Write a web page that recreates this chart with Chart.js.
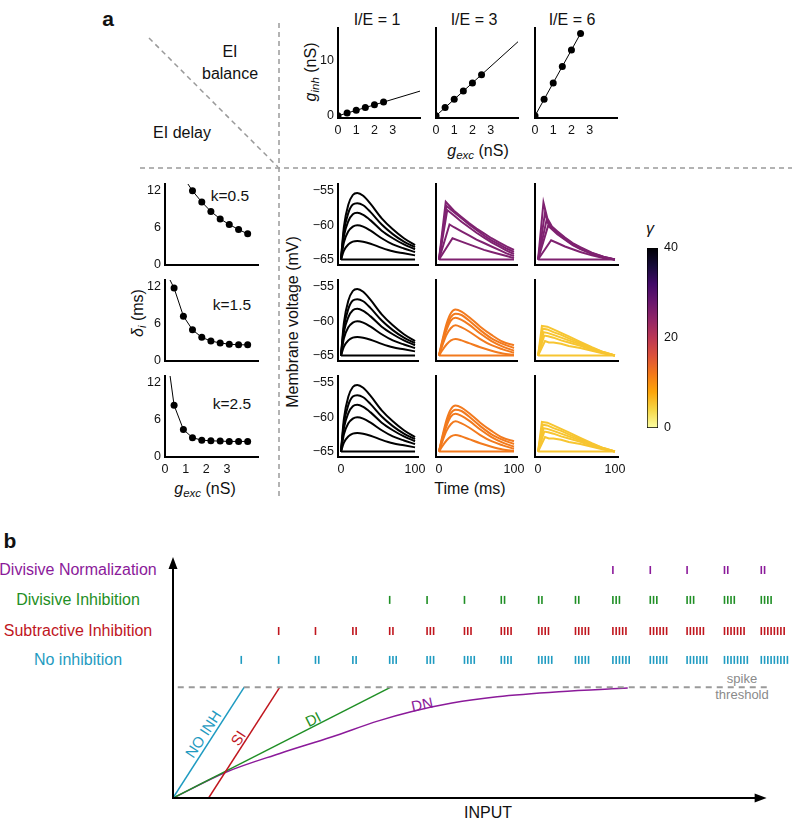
<!DOCTYPE html>
<html>
<head>
<meta charset="utf-8">
<script src="https://cdn.jsdelivr.net/npm/chart.js@4.4.1/dist/chart.umd.min.js"></script>
<style>
body { margin: 0; background: #fff; }
#fig { position: relative; width: 797px; height: 819px; overflow: hidden; background: #fff;
       font-family: 'Liberation Sans', Arial, sans-serif; color: #111; }
#fig canvas { position: absolute; }
.t { position: absolute; transform: translate(-50%, -50%); white-space: nowrap; font-size: 16px; line-height: 1; }
.v { transform: translate(-50%, -50%) rotate(-90deg); }
.t sub { font-size: 72%; vertical-align: -0.3em; line-height: 0; }
.lab { font-weight: bold; font-size: 21px; }
</style>
</head>
<body>
<div id="fig">
  <svg width="797" height="819" style="position:absolute;left:0;top:0">
    <g stroke="#9a9a9a" stroke-width="1.5" stroke-dasharray="5 4" fill="none">
      <line x1="149" y1="38" x2="278" y2="167"/>
      <line x1="279" y1="23" x2="279" y2="500"/>
      <line x1="140" y1="168" x2="792" y2="168"/>
    </g>
  </svg>

  <div class="t lab" style="left:108px;top:18px">a</div>
  <div class="t lab" style="left:10px;top:540px">b</div>

  <div class="t" style="left:230px;top:52px">EI</div>
  <div class="t" style="left:230px;top:74px">balance</div>
  <div class="t" style="left:182px;top:133px">EI delay</div>

  <div class="t" style="left:377px;top:20px">I/E = 1</div>
  <div class="t" style="left:474px;top:20px">I/E = 3</div>
  <div class="t" style="left:572px;top:20px">I/E = 6</div>
  <div class="t v" style="left:311px;top:72px"><i>g</i><sub><i>inh</i></sub> (nS)</div>
  <div class="t" style="left:478px;top:151px"><i>g</i><sub><i>exc</i></sub> (nS)</div>

  <div class="t" style="left:230px;top:196px;font-size:15.5px">k=0.5</div>
  <div class="t" style="left:232px;top:305px;font-size:15.5px">k=1.5</div>
  <div class="t" style="left:232px;top:404px;font-size:15.5px">k=2.5</div>
  <div class="t v" style="left:138px;top:313px"><i>δ</i><sub><i>i</i></sub> (ms)</div>
  <div class="t" style="left:205px;top:489px"><i>g</i><sub><i>exc</i></sub> (nS)</div>

  <div class="t v" style="left:293px;top:322px">Membrane voltage (mV)</div>
  <div class="t" style="left:470px;top:489px">Time (ms)</div>
  <div class="t" style="left:650px;top:229px"><i>γ</i></div>

  <div class="t" style="left:78px;top:570px;color:#8b1a9a">Divisive Normalization</div>
  <div class="t" style="left:78px;top:600px;color:#1f8f25">Divisive Inhibition</div>
  <div class="t" style="left:78px;top:631px;color:#c0161e">Subtractive Inhibition</div>
  <div class="t" style="left:78px;top:660px;color:#1f9bc1">No inhibition</div>
  <div class="t" style="left:742px;top:678px;font-size:13px;color:#8a8a8a">spike</div>
  <div class="t" style="left:742px;top:694px;font-size:13px;color:#8a8a8a">threshold</div>
  <div class="t" style="left:488px;top:813px">INPUT</div>
  <div class="t" style="left:203px;top:734px;font-size:15px;color:#1f9bc1;transform:translate(-50%,-50%) rotate(-57deg)">NO INH</div>
  <div class="t" style="left:238px;top:738px;font-size:15px;color:#c0161e;transform:translate(-50%,-50%) rotate(-57deg)">SI</div>
  <div class="t" style="left:313px;top:719px;font-size:15px;color:#1f8f25;transform:translate(-50%,-50%) rotate(-27deg)">DI</div>
  <div class="t" style="left:422px;top:704px;font-size:15px;color:#8b1a9a;transform:translate(-50%,-50%) rotate(-12deg)">DN</div>
</div>

<script>
// ---- panel a, top row (EI balance): g_inh against g_exc for each I/E ratio
const gexcPts = [0, 0.5, 1, 1.5, 2, 2.5];
const ginhIE1 = [0, 0.5, 1, 1.5, 2, 2.5];
const ginhIE3 = [0, 1.5, 3, 4.5, 6, 7.5];
const ginhIE6 = [0, 3, 6, 9, 12, 15];
const fitIE1 = [[0, 0], [4.5, 4.5]];
const fitIE3 = [[0, 0], [4.5, 13.5]];
const fitIE6 = [[0, 0], [2.5, 15]];

// ---- panel a, left column (EI delay): delta_i against g_exc
const gexcDelay = [0, 0.44, 0.89, 1.33, 1.78, 2.22, 2.67, 3.11, 3.56, 4.0];
const delayK05 = [20, 17, 14.1, 11.9, 10.1, 8.6, 7.4, 6.5, 5.7, 5.0];
const delayK15 = [14.6, 11.7, 7.2, 5.0, 3.8, 3.2, 2.9, 2.7, 2.6, 2.6];
const delayK25 = [19, 8.3, 4.4, 3.1, 2.7, 2.6, 2.55, 2.5, 2.5, 2.5];

// ---- panel a, membrane voltage traces (mV)
const tMs = [0, 4, 10, 16, 22, 30, 40, 55, 70, 85, 100];
const vBlack = [
  [-65, -60.2, -57.0, -55.6, -55.3, -55.7, -56.9, -59.0, -60.6, -61.9, -62.9],
  [-65, -60.9, -58.2, -57.0, -56.8, -57.1, -58.1, -59.9, -61.3, -62.4, -63.2],
  [-65, -61.6, -59.4, -58.4, -58.2, -58.5, -59.3, -60.8, -61.9, -62.8, -63.5],
  [-65, -62.5, -60.9, -60.2, -60.0, -60.2, -60.8, -61.9, -62.8, -63.4, -63.9],
  [-65, -63.7, -62.8, -62.4, -62.3, -62.4, -62.7, -63.3, -63.8, -64.1, -64.4],
  [-65, -65, -65, -65, -65, -65, -65, -65, -65, -65, -65]
];
const vOrange = [
  [-65, -63.0, -60.4, -58.8, -58.3, -58.6, -59.4, -60.8, -62.0, -63.0, -63.5],
  [-65, -63.2, -60.9, -59.4, -58.9, -59.1, -59.9, -61.3, -62.5, -63.3, -63.9],
  [-65, -63.4, -61.3, -59.9, -59.5, -59.8, -60.5, -61.8, -62.9, -63.7, -64.3],
  [-65, -63.7, -62.0, -61.0, -60.6, -60.9, -61.5, -62.6, -63.5, -64.1, -64.6],
  [-65, -64.3, -63.4, -62.8, -62.6, -62.8, -63.2, -63.8, -64.3, -64.7, -64.9],
  [-65, -65, -65, -65, -65, -65, -65, -65, -65, -65, -65]
];
// [time, voltage] pairs for the sharply peaked traces
const vPurpleMid = [
  [[0, -65], [9, -56.6], [20, -57.9], [30, -58.8], [40, -59.7], [50, -60.5], [60, -61.2], [70, -61.9], [80, -62.5], [90, -63.1], [100, -63.6]],
  [[0, -65], [10, -57.2], [20, -58.1], [30, -59.0], [40, -59.9], [50, -60.7], [60, -61.5], [70, -62.2], [80, -62.8], [90, -63.4], [100, -63.9]],
  [[0, -65], [11, -57.8], [20, -58.6], [30, -59.5], [40, -60.3], [50, -61.1], [60, -61.8], [70, -62.5], [80, -63.1], [90, -63.7], [100, -64.2]],
  [[0, -65], [14, -59.9], [20, -60.3], [30, -60.9], [40, -61.5], [50, -62.1], [60, -62.6], [70, -63.1], [80, -63.6], [90, -64.1], [100, -64.5]],
  [[0, -65], [18, -61.9], [30, -62.4], [40, -62.8], [50, -63.2], [60, -63.6], [70, -63.9], [80, -64.2], [90, -64.5], [100, -64.8]],
  [[0, -65], [100, -65]]
];
const vPurpleHigh = [
  [[0, -65], [7, -56.7], [12, -59.0], [18, -60.2], [25, -60.9], [35, -61.8], [45, -62.6], [55, -63.2], [70, -64.0], [85, -64.6], [100, -65]],
  [[0, -65], [9, -58.2], [13, -59.6], [18, -60.4], [25, -61.0], [35, -61.9], [45, -62.7], [55, -63.3], [70, -64.1], [85, -64.6], [100, -65]],
  [[0, -65], [11, -59.3], [15, -60.1], [20, -60.6], [25, -61.1], [35, -62.0], [45, -62.8], [55, -63.4], [70, -64.1], [85, -64.7], [100, -65]],
  [[0, -65], [13, -60.1], [18, -60.6], [25, -61.3], [35, -62.1], [45, -62.9], [55, -63.5], [70, -64.2], [85, -64.7], [100, -65]],
  [[0, -65], [17, -62.2], [25, -62.6], [35, -63.1], [45, -63.5], [55, -63.9], [70, -64.4], [85, -64.8], [100, -65]],
  [[0, -65], [100, -65]]
];
const vYellow = [
  [[0, -65], [5, -60.7], [12, -60.8], [20, -61.2], [30, -61.7], [40, -62.2], [55, -63.0], [70, -63.8], [85, -64.5], [100, -65]],
  [[0, -65], [6, -61.1], [12, -61.2], [20, -61.6], [30, -62.0], [40, -62.5], [55, -63.2], [70, -63.9], [85, -64.5], [100, -65]],
  [[0, -65], [7, -61.6], [12, -61.7], [20, -62.0], [30, -62.4], [40, -62.8], [55, -63.4], [70, -64.0], [85, -64.6], [100, -65]],
  [[0, -65], [8, -62.1], [13, -62.2], [20, -62.4], [30, -62.8], [40, -63.1], [55, -63.6], [70, -64.2], [85, -64.6], [100, -65]],
  [[0, -65], [9, -62.9], [14, -63.1], [20, -63.1], [30, -63.3], [40, -63.6], [55, -63.9], [70, -64.3], [85, -64.7], [100, -65]],
  [[0, -65], [100, -65]]
];
const gammaTicks = [0, 20, 40];

// ---- panel b: input-output curves and spike counts per input level
const inputLevels = [11.5, 17.8, 24.0, 30.3, 36.5, 42.8, 49.1, 55.3, 61.6, 67.8, 74.1, 80.4, 86.6, 92.9, 99.1];
const spikesNoInh = [1, 1, 2, 2, 3, 3, 4, 4, 5, 5, 6, 6, 7, 8, 9];
const spikesSI    = [0, 1, 1, 2, 2, 3, 3, 4, 4, 5, 5, 6, 6, 7, 8];
const spikesDI    = [0, 0, 0, 0, 1, 1, 1, 2, 2, 2, 3, 3, 3, 4, 4];
const spikesDN    = [0, 0, 0, 0, 0, 0, 0, 0, 0, 0, 1, 1, 1, 2, 2];
const noInhX = [0, 12.0], noInhY = [0, 46];
const siX = [6.0, 18.0], siY = [0, 46];
const diX = [0, 36.7], diY = [0, 46];
const dnX = [0, 9, 18, 26.7, 34.6, 40.1, 47, 54.6, 65, 76.6];
const dnY = [0, 10.8, 18.5, 25.3, 32.0, 35.8, 39.4, 42.0, 44.1, 45.6];
const threshold = 46;

// -------------------------------------------------------------------------
const fig = document.getElementById('fig');
const tickFont = {family: "'Liberation Sans', Arial, sans-serif", size: 12.5};
const minus = v => String(v).replace('-', '\u2212');
const xy = (xs, ys) => xs.map((x, i) => ({x, y: ys[i]}));
const noUi = {legend: {display: false}, tooltip: {enabled: false}};

function canvasAt(l, t, w, h) {
  const cv = document.createElement('canvas');
  cv.width = w; cv.height = h;
  cv.style.left = l + 'px'; cv.style.top = t + 'px';
  cv.style.width = w + 'px'; cv.style.height = h + 'px';
  fig.appendChild(cv);
  return cv;
}

function linAxis(min, max, ticks, showLabels, size, isX) {
  return {
    type: 'linear', min, max,
    grid: {display: false, drawTicks: false},
    border: {display: true, color: '#000', width: 2},
    ticks: {display: showLabels, font: tickFont, color: '#111', padding: isX ? 5 : 4,
            maxRotation: 0, autoSkip: false, callback: minus},
    afterBuildTicks: s => { s.ticks = ticks.map(v => ({value: v})); },
    afterFit: s => {
      if (isX) s.height = size; else s.width = size;
      s.paddingLeft = s.paddingRight = s.paddingTop = s.paddingBottom = 0;
    }
  };
}

// small panel whose plot area is exactly [l, t, r, b] in page pixels
function panel(area, xAxis, yAxis, datasets) {
  const [l, t, r, b] = area;
  const padL = 36, padB = 24, padT = 8, padR = 14;
  const cv = canvasAt(l - padL, t - padT, r - l + padL + padR, b - t + padT + padB);
  return new Chart(cv, {
    type: 'scatter',
    data: {datasets},
    options: {
      responsive: false, animation: false, events: [],
      layout: {padding: {left: 0, top: padT, right: padR, bottom: 0}},
      plugins: noUi,
      scales: {x: linAxis(...xAxis, padB, true), y: linAxis(...yAxis, padL, false)}
    }
  });
}

const colL = [338, 436, 535];
const rows = [[184, 265], [280, 361], [376, 457]];

// top row
const ginhSets = [ginhIE1, ginhIE3, ginhIE6];
const fitSets = [fitIE1, fitIE3, fitIE6];
ginhSets.forEach((g, i) => {
  panel([colL[i], 28, colL[i] + 82, 118],
    [0, 4.5, [0, 1, 2, 3], true], [-0.4, 16, [0, 10], i === 0],
    [
      {data: fitSets[i].map(([x, y]) => ({x, y})), showLine: true, borderColor: '#000', borderWidth: 1, pointRadius: 0},
      {data: xy(gexcPts, g), pointRadius: 3.5, pointBackgroundColor: '#000', pointBorderWidth: 0}
    ]);
});

// left column
[delayK05, delayK15, delayK25].forEach((d, i) => {
  panel([165, rows[i][0], 258, rows[i][1]],
    [0, 4.5, [0, 1, 2, 3], i === 2], [0, 13, [0, 6, 12], true],
    [{data: xy(gexcDelay, d), showLine: true, borderColor: '#000', borderWidth: 1, clip: 0,
      pointRadius: gexcDelay.map((_, j) => j === 0 ? 0 : 3.5),
      pointBackgroundColor: '#000', pointBorderWidth: 0}]);
});

// membrane voltage grid
const memSets = [
  [vBlack, vPurpleMid, vPurpleHigh],
  [vBlack, vOrange, vYellow],
  [vBlack, vOrange, vYellow]
];
const memColors = [
  ['#000000', '#7f2270', '#7f2270'],
  ['#000000', '#f27a1e', '#f7c531'],
  ['#000000', '#f27a1e', '#f7c531']
];
const memR = [418, 517, 618];
memSets.forEach((row, r) => {
  row.forEach((curves, c) => {
    const ds = curves.map(cv => {
      const paired = Array.isArray(cv[0]);
      return {
        data: paired ? cv.map(([x, y]) => ({x, y})) : xy(tMs, cv),
        showLine: true, borderColor: memColors[r][c], borderWidth: 2, pointRadius: 0,
        cubicInterpolationMode: paired ? 'default' : 'monotone', tension: paired ? 0 : 0.4
      };
    });
    panel([colL[c], rows[r][0], memR[c], rows[r][1]],
      [-4, 104, [0, 100], r === 2], [-65.8, -54, [-65, -60, -55], c === 0], ds);
  });
});

// colour bar for gamma (inferno, 0 at the bottom)
const cbStops = ['#fcffa4', '#f6d746', '#fca50a', '#f37819', '#dd513a', '#bc3754',
                 '#932667', '#6a176e', '#420a68', '#160b39', '#000004'];
new Chart(canvasAt(647, 240, 11 + 30, 180 + 16), {
  type: 'bar',
  data: {labels: [''], datasets: [{
    data: [gammaTicks[gammaTicks.length - 1]],
    backgroundColor: ctx => {
      const a = ctx.chart.chartArea;
      if (!a) return '#000';
      const g = ctx.chart.ctx.createLinearGradient(0, a.bottom, 0, a.top);
      cbStops.forEach((c, i) => g.addColorStop(i / (cbStops.length - 1), c));
      return g;
    },
    borderColor: '#000', borderWidth: 1, borderSkipped: false,
    barPercentage: 1, categoryPercentage: 1
  }]},
  options: {
    responsive: false, animation: false, events: [],
    layout: {padding: {left: 0, top: 8, right: 0, bottom: 8}},
    plugins: noUi,
    scales: {
      x: {display: false},
      y: {position: 'right', min: 0, max: 40,
          grid: {display: false, drawTicks: false}, border: {display: false},
          ticks: {font: tickFont, color: '#111', padding: 6},
          afterBuildTicks: s => { s.ticks = gammaTicks.map(v => ({value: v})); },
          afterFit: s => { s.width = 30; s.paddingTop = s.paddingBottom = 0; }}
    }
  }
});

// ---- panel b
const blue = '#1f9bc1', red = '#c0161e', green = '#1f8f25', purple = '#8b1a9a';
function spikeRow(counts, yRow) {
  const pts = [];
  counts.forEach((n, i) => {
    for (let k = 0; k < n; k++) pts.push({x: inputLevels[i] + k * 0.55, y: yRow});
  });
  return pts;
}
const raster = (counts, yRow, col) => ({
  data: spikeRow(counts, yRow), pointStyle: 'line', pointRotation: 90, pointRadius: 4,
  pointBorderColor: col, pointBorderWidth: 1.6, clip: false
});
const ioLine = (xs, ys, col, extra) => Object.assign(
  {data: xy(xs, ys), showLine: true, borderColor: col, borderWidth: 1.5, pointRadius: 0}, extra || {});

const arrowAxes = {
  id: 'arrowAxes',
  afterDatasetsDraw(chart) {
    const {ctx, scales: {x, y}} = chart;
    const x0 = x.getPixelForValue(0), y0 = y.getPixelForValue(0);
    const xTip = x.getPixelForValue(100), yTip = y.getPixelForValue(100);
    ctx.save();
    ctx.strokeStyle = ctx.fillStyle = '#000';
    ctx.lineWidth = 2;
    ctx.beginPath();
    ctx.moveTo(x0, y0 + 1); ctx.lineTo(x0, yTip + 10);
    ctx.moveTo(x0 - 1, y0); ctx.lineTo(xTip - 10, y0);
    ctx.stroke();
    ctx.beginPath();
    ctx.moveTo(x0, yTip); ctx.lineTo(x0 - 4.5, yTip + 12); ctx.lineTo(x0 + 4.5, yTip + 12); ctx.closePath();
    ctx.moveTo(xTip, y0); ctx.lineTo(xTip - 12, y0 - 4.5); ctx.lineTo(xTip - 12, y0 + 4.5); ctx.closePath();
    ctx.fill();
    ctx.restore();
  }
};

new Chart(canvasAt(0, 540, 797, 279), {
  type: 'scatter',
  data: {datasets: [
    ioLine([0.8, 100.5], [threshold, threshold], '#9a9a9a', {borderWidth: 2, borderDash: [6, 5]}),
    ioLine(noInhX, noInhY, blue),
    ioLine(siX, siY, red),
    ioLine(diX, diY, green),
    ioLine(dnX, dnY, purple, {cubicInterpolationMode: 'monotone'}),
    raster(spikesNoInh, 57.3, blue),
    raster(spikesSI, 69.3, red),
    raster(spikesDI, 82.2, green),
    raster(spikesDN, 94.6, purple)
  ]},
  options: {
    responsive: false, animation: false, events: [],
    layout: {padding: {left: 173, top: 17, right: 0, bottom: 21}},
    plugins: noUi,
    scales: {
      x: {type: 'linear', display: false, min: 0, max: 104.17},
      y: {type: 'linear', display: false, min: 0, max: 100}
    }
  },
  plugins: [arrowAxes]
});
</script>
</body>
</html>
